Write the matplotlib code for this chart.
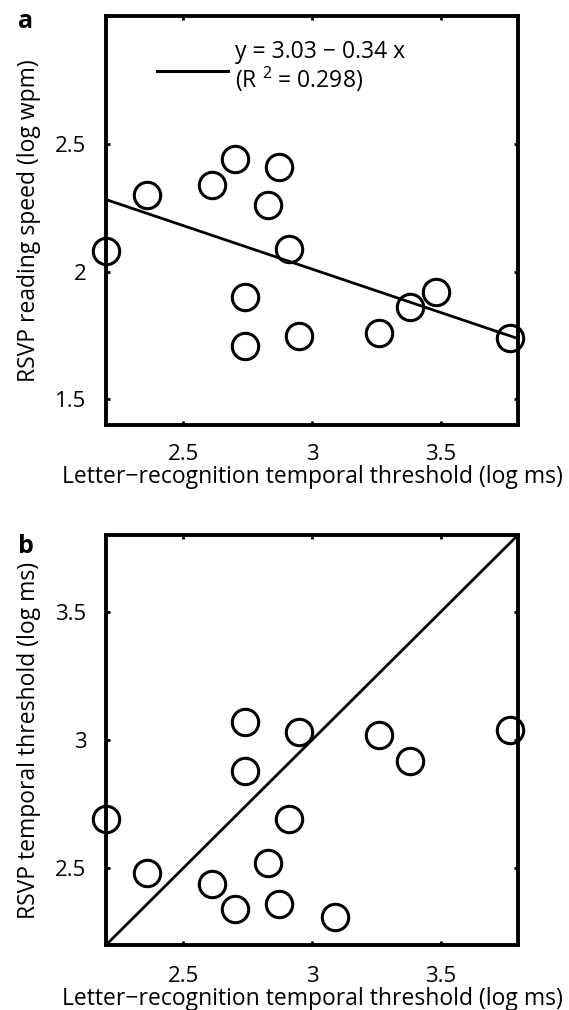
import matplotlib
matplotlib.use("Agg")
from matplotlib import pyplot as plt

plt.rcParams['font.family'] = ['Open Sans', 'DejaVu Sans']
plt.rcParams['mathtext.fontset'] = 'custom'
plt.rcParams['mathtext.rm'] = 'Open Sans'

# Panel a: letter-recognition threshold vs RSVP reading speed
letra_x = [2.20, 2.36, 2.61, 2.70, 2.87, 2.83, 2.91, 2.74, 2.74, 2.95, 3.26, 3.38, 3.48, 3.77]
rsvp_speed = [2.08, 2.30, 2.34, 2.44, 2.41, 2.26, 2.09, 1.90, 1.71, 1.75, 1.76, 1.86, 1.92, 1.74]

# Panel b: letter-recognition threshold vs RSVP temporal threshold
letrb_x = [2.20, 2.36, 2.61, 2.70, 2.87, 2.83, 2.91, 2.74, 2.74, 2.95, 3.26, 3.38, 3.77, 3.09]
rsvp_thr = [2.69, 2.48, 2.44, 2.34, 2.36, 2.52, 2.69, 2.88, 3.07, 3.03, 3.02, 2.92, 3.04, 2.31]

# recta de regresion
ordenada = 3.03
pendiente = -0.34
fit_x = [2.2, 3.8]
fit_y = [ordenada + pendiente * v for v in fit_x]

xticks = [2.5, 3, 3.5]
xticklabels = ["2.5", "3", "3.5"]
yticks_a = [1.5, 2, 2.5]
yticks_b = [2.5, 3, 3.5]

xlabel = "Letter\u2212recognition temporal threshold (log ms)"


def estilo(ax, xpad, labpad):
    ''' Estilo comun de los dos paneles '''
    for s in ax.spines.values():
        s.set_linewidth(2.8)
    ax.tick_params(direction="in", length=3, width=2, top=True, right=True,
                   labelsize=16, pad=14)
    ax.tick_params(axis="x", pad=xpad)
    ax.set_xticks(xticks)
    ax.set_xticklabels(xticklabels)
    ax.set_xlim(2.2, 3.8)
    ax.set_xlabel(xlabel, fontsize=16.5, labelpad=labpad)


fig = plt.figure(figsize=(5.69, 10.10), dpi=100)

# Panel a
axa = fig.add_axes([106 / 569, 1 - 425 / 1010, 412 / 569, 409 / 1010])
axa.plot(fit_x, fit_y, color="black", lw=2, solid_capstyle="butt")
axa.plot(letra_x, rsvp_speed, "o", ms=19, mfc="none", mec="black", mew=2.2, clip_on=False)
axa.set_ylim(1.4, 3.0)
axa.set_yticks(yticks_a)
axa.set_yticklabels(["1.5", "2", "2.5"])
axa.set_ylabel("RSVP reading speed (log wpm)", fontsize=16.5, labelpad=10)
estilo(axa, 14, 0)
axa.plot([2.398, 2.672], [2.785, 2.785], color="black", lw=2.2)
axa.text(2.70, 2.835, "y = 3.03 \u2212 0.34 x", fontsize=16.5, va="baseline")
axa.text(2.70, 2.718, "(R $\\mathregular{^{2}}$ = 0.298)", fontsize=16.5, va="baseline")
fig.text(18 / 569, 1 - 28 / 1010, "a", fontsize=18, fontweight="bold")

# Panel b
axb = fig.add_axes([106 / 569, 1 - 945 / 1010, 412 / 569, 410 / 1010])
axb.plot([2.2, 3.8], [2.2, 3.8], color="black", lw=2)
axb.plot(letrb_x, rsvp_thr, "o", ms=19, mfc="none", mec="black", mew=2.2, clip_on=False)
axb.set_ylim(2.2, 3.8)
axb.set_yticks(yticks_b)
axb.set_yticklabels(["2.5", "3", "3.5"])
axb.set_ylabel("RSVP temporal threshold (log ms)", fontsize=16.5, labelpad=10)
estilo(axb, 15, 0)
fig.text(18 / 569, 1 - 553 / 1010, "b", fontsize=18, fontweight="bold")

plt.savefig("out.png")
